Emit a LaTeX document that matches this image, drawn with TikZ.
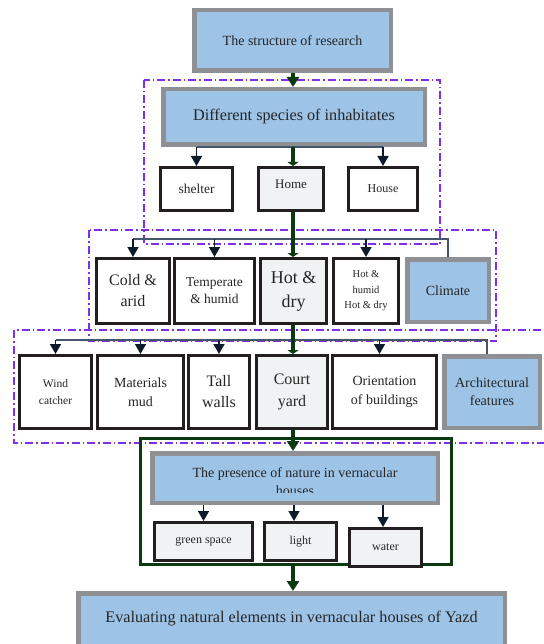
\documentclass[tikz,border=0pt]{standalone}
\usepackage{fontspec}
\setmainfont{Liberation Serif}
\usetikzlibrary{arrows.meta,calc}
\definecolor{lblue}{HTML}{9DC3E6}
\definecolor{gbord}{HTML}{8F9094}
\definecolor{bbord}{HTML}{231F20}
\definecolor{lgray}{HTML}{F1F2F4}
\definecolor{ddpurple}{HTML}{7F2FE6}
\definecolor{spgreen}{HTML}{0B3A10}
\definecolor{connc}{HTML}{46566A}
\definecolor{navy}{HTML}{0E1B2B}
\definecolor{txt}{HTML}{262626}
\begin{document}
\begin{tikzpicture}[x=1pt,y=-1pt,
  every node/.style={text=txt, inner sep=0pt, align=center},
  f/.style 2 args={font=\fontsize{#1}{#2}\selectfont},
  sz/.style 2 args={minimum width=#1pt, minimum height=#2pt},
  bluebox/.style={draw=gbord, line width=4.5pt, fill=lblue},
  blackbox/.style={draw=bbord, line width=3pt, fill=white},
  graybox/.style={blackbox, fill=lgray},
  ddrect/.style={draw=ddpurple, line width=1.3pt, dash pattern=on 8pt off 3pt on 1.5pt off 3pt},
  hline/.style={draw=connc, line width=1.1pt},
  darr/.style={draw=navy, line width=1.6pt, -{Triangle[width=11pt,length=10pt]}},
  spine/.style={draw=spgreen, line width=4pt},
  sparr/.style={spine, -{Triangle[width=12pt,length=10pt]}},
  spflat/.style={spine, -{Triangle[width=11pt,length=4pt]}},
  ]
\useasboundingbox (0,0) rectangle (543,644);

% dash-dot groups
\draw[ddrect] (144,80) rectangle (440,244);
\draw[ddrect] (89,230) rectangle (496,341);
\draw[ddrect] (14,330) rectangle (552,443);

% green frame
\node[draw=spgreen, line width=3pt, sz={311}{126}] (natfr) at (296,501.5) {};

% spine reference
\coordinate (sp) at (293,0);
\coordinate (r2) at (0,239);
\coordinate (r3) at (0,340);

% boxes
\node[bluebox, sz={196.5}{60.5}, f={14}{17}] (s1) at (292.5,40.5) {The structure of research};
\node[bluebox, sz={261.5}{55.5}, f={16.2}{19}] (s2) at (294,117) {Different species of inhabitates};

\node[blackbox, sz={72}{43}, f={13.5}{16}] (shelter) at (196.5,189) {shelter};
\node[graybox, sz={65}{43}, f={13}{16}] (home) at (291,189) {\raisebox{9pt}{Home}};
\node[blackbox, sz={69}{43}, f={12}{15}] (house) at (383,189) {House};

\node[blackbox, sz={73}{65}, f={16}{21}] (cold) at (133,291) {Cold \&\\arid};
\node[blackbox, sz={80}{65}, f={13.5}{17}] (temp) at (214.5,291) {Temperate\\\& humid};
\node[graybox, sz={66}{65}, f={18}{24}] (hotdry) at (293.5,291) {\raisebox{6pt}{\begin{tabular}{@{}c@{}}Hot \&\\dry\end{tabular}}};
\node[blackbox, sz={65}{65}, f={10.5}{15.5}] (hothum) at (366,291) {Hot \&\\humid\\Hot \& dry};
\node[bluebox, sz={81.5}{62.5}, f={14}{17}] (climate) at (448,290.5) {\raisebox{-5pt}{Climate}};

\node[blackbox, sz={72}{73}, f={11.5}{17}] (wind) at (55.5,392) {Wind\\catcher};
\node[blackbox, sz={86}{73}, f={14}{19}] (mat) at (140.5,392) {Materials\\mud};
\node[blackbox, sz={61}{73}, f={16}{21}] (tall) at (219,392) {Tall\\walls};
\node[graybox, sz={71}{73}, f={16}{22}] (court) at (292,392) {Court\\yard};
\node[blackbox, sz={104}{73}, f={14}{19}] (orient) at (384.5,392) {Orientation\\of buildings};
\node[bluebox, sz={95.5}{71.5}, f={14}{18}] (arch) at (492,392) {Architectural\\features};

\node[bluebox, sz={285.5}{49.5}] (pres) at (295,478) {};
\begin{scope}
  \clip (150,451) rectangle (440,492);
  \node[f={14}{17}, anchor=base] (pres1) at (295,477.7) {The presence of nature in vernacular};
  \node[f={14}{17}, anchor=base] (pres2) at (295,495) {houses};
\end{scope}

\node[graybox, sz={98}{38}, f={12}{15}] (green) at (203.5,541.5) {green space};
\node[graybox, sz={72}{38}, f={12}{15}] (light) at (300.5,541.5) {light};
\node[graybox, sz={72}{38}, f={12}{15}] (water) at (385.5,547.5) {water};

\node[bluebox, sz={426.5}{54.5}, f={16.2}{19}] (eval) at (291.5,620.5) {\raisebox{6.5pt}{Evaluating natural elements in vernacular houses of Yazd}};

% connectors row 1
\draw[hline] (shelter.north |- s2.south) -- (house.north |- s2.south);
\draw[darr] (shelter.north |- s2.south) -- (shelter.north);
\draw[darr] (house.north |- s2.south) -- (house.north);

% row 2
\draw[hline] (climate.north) |- (cold.north |- r2);
\draw[darr] (cold.north |- r2) -- (cold.north);
\draw[darr] (temp.north |- r2) -- (temp.north);
\draw[darr] (hothum.north |- r2) -- (hothum.north);

% row 3
\draw[hline] ($(arch.north)+(-5,0)$) |- (wind.north |- r3);
\draw[darr] (wind.north |- r3) -- (wind.north);
\draw[darr] (mat.north |- r3) -- (mat.north);
\draw[darr] (tall.north |- r3) -- (tall.north);
\draw[darr] ($(orient.north |- r3)+(-5,0)$) -- ($(orient.north)+(-5,0)$);

% row 4
\draw[darr] (green.north |- pres.south) -- (green.north);
\draw[darr] ($(light.north |- pres.south)+(-6.5,0)$) -- ($(light.north)+(-6.5,0)$);
\draw[darr] ($(water.north |- pres.south)+(-2.5,0)$) -- ($(water.north)+(-2.5,0)$);

% spine
\draw[sparr] (sp |- s1.south) -- (sp |- s2.north);
\draw[spflat] (sp |- s2.south) -- (sp |- home.north);
\draw[spflat] (sp |- home.south) -- (sp |- hotdry.north);
\draw[spflat] (sp |- hotdry.south) -- (sp |- court.north);
\draw[sparr] (sp |- court.south) -- (sp |- pres.north);
\draw[sparr] (sp |- natfr.south) -- (sp |- eval.north);
\end{tikzpicture}
\end{document}
